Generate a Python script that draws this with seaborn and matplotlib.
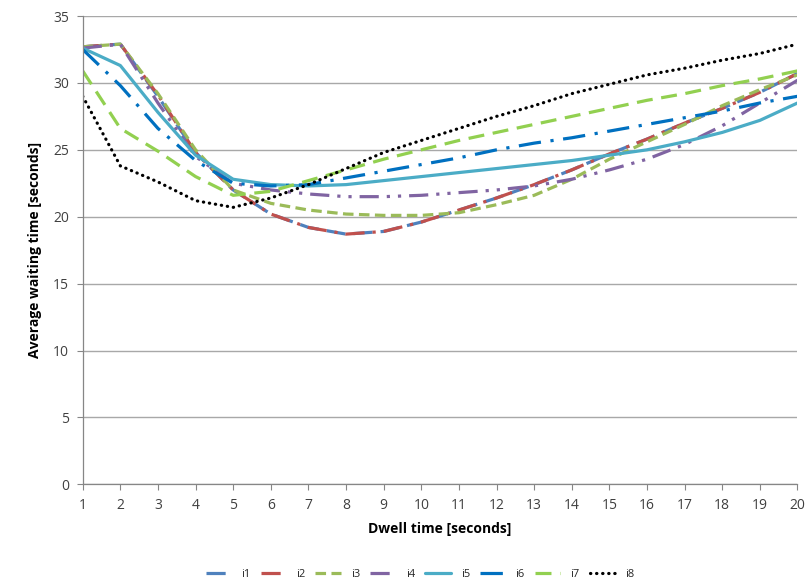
import matplotlib
matplotlib.use("Agg")
import matplotlib.pyplot as plt
import seaborn as sns
import pandas as pd

dwell = list(range(1, 21))
i1 = [32.7, 32.9, 29.0, 24.8, 22.0, 20.2, 19.2, 18.7, 18.9, 19.6, 20.5, 21.4, 22.4, 23.5, 24.7, 25.8, 27.0, 28.1, 29.3, 30.7]
i2 = [32.7, 32.9, 29.1, 24.8, 22.0, 20.2, 19.2, 18.7, 18.9, 19.6, 20.5, 21.4, 22.4, 23.5, 24.7, 25.8, 27.0, 28.1, 29.3, 30.7]
i3 = [32.7, 32.9, 29.2, 25.0, 22.0, 21.0, 20.5, 20.2, 20.1, 20.1, 20.3, 20.9, 21.6, 22.8, 24.3, 25.6, 26.9, 28.3, 29.5, 30.6]
i4 = [32.6, 32.9, 28.5, 24.5, 22.5, 22.0, 21.7, 21.5, 21.5, 21.6, 21.8, 22.0, 22.3, 22.8, 23.5, 24.3, 25.4, 26.8, 28.5, 30.2]
i5 = [32.6, 31.3, 27.8, 24.6, 22.8, 22.4, 22.3, 22.4, 22.7, 23.0, 23.3, 23.6, 23.9, 24.2, 24.6, 25.0, 25.6, 26.3, 27.2, 28.5]
i6 = [32.5, 29.8, 26.6, 24.2, 22.5, 22.3, 22.4, 22.9, 23.4, 23.9, 24.4, 25.0, 25.5, 25.9, 26.4, 26.9, 27.4, 27.9, 28.5, 29.0]
i7 = [30.9, 26.6, 24.9, 23.0, 21.6, 21.9, 22.7, 23.5, 24.3, 25.0, 25.7, 26.3, 26.9, 27.5, 28.1, 28.7, 29.2, 29.8, 30.3, 30.9]
i8 = [29.0, 23.8, 22.6, 21.2, 20.7, 21.4, 22.4, 23.6, 24.8, 25.7, 26.6, 27.5, 28.3, 29.2, 29.9, 30.6, 31.1, 31.7, 32.2, 32.9]

series_names = ["i1", "i2", "i3", "i4", "i5", "i6", "i7", "i8"]
series_values = [i1, i2, i3, i4, i5, i6, i7, i8]
x_ticks = list(range(1, 21))
y_ticks = [0, 5, 10, 15, 20, 25, 30, 35]

colors = ["#4F81BD", "#C0504D", "#9BBB59", "#8064A2", "#4BACC6", "#0070C0", "#92D050", "#000000"]
styles = [
    (0, (6, 2.5)),
    (0, (6, 2.5, 1, 2.5)),
    (0, (3.3, 1.7)),
    (0, (6, 2.5, 1, 2.5, 1, 2.5)),
    "-",
    (0, (7, 3, 1, 3)),
    (0, (5, 2.7)),
    (0, (0.1, 1.8)),
]

sns.set_theme(style="white")
plt.rcParams["font.family"] = ["Open Sans", "DejaVu Sans"]

fig = plt.figure(figsize=(8.07, 5.85), dpi=100)
ax = fig.add_axes([0.1025, 0.1721, 0.8857, 0.8005])

for name, vals, c, ls in zip(series_names, series_values, colors, styles):
    df = pd.DataFrame({"Dwell": dwell, "Wait": vals})
    sns.lineplot(data=df, x="Dwell", y="Wait", ax=ax, color=c, linewidth=2.3,
                 linestyle=ls, label=name, dash_capstyle="round" if name == "i8" else "butt")

ax.set_xlim(1, 20)
ax.set_ylim(0, 35)
ax.set_xticks(x_ticks)
ax.set_yticks(y_ticks)
ax.tick_params(axis="both", labelsize=10, length=4, width=0.8, direction="out",
               bottom=True, left=True, pad=6, colors="#868686", labelcolor="#404040")
ax.grid(axis="y", color="#A8A8A8", linewidth=1.0)
ax.grid(axis="x", visible=False)
for side in ["top", "right"]:
    ax.spines[side].set_visible(False)
for side in ["left", "bottom"]:
    ax.spines[side].set_color("#868686")
    ax.spines[side].set_linewidth(0.9)

ax.set_xlabel("Dwell time [seconds]", fontsize=10, fontweight="bold", color="#000000", labelpad=6)
ax.set_ylabel("Average waiting time [seconds]", fontsize=10, fontweight="bold", color="#000000", labelpad=8)

leg = ax.legend(loc="center", bbox_to_anchor=(0.472, -0.192), ncol=8, frameon=False,
                fontsize=8, handlelength=2.3, columnspacing=0.9, handletextpad=0.9)

fig.savefig("out.png", dpi=100)
